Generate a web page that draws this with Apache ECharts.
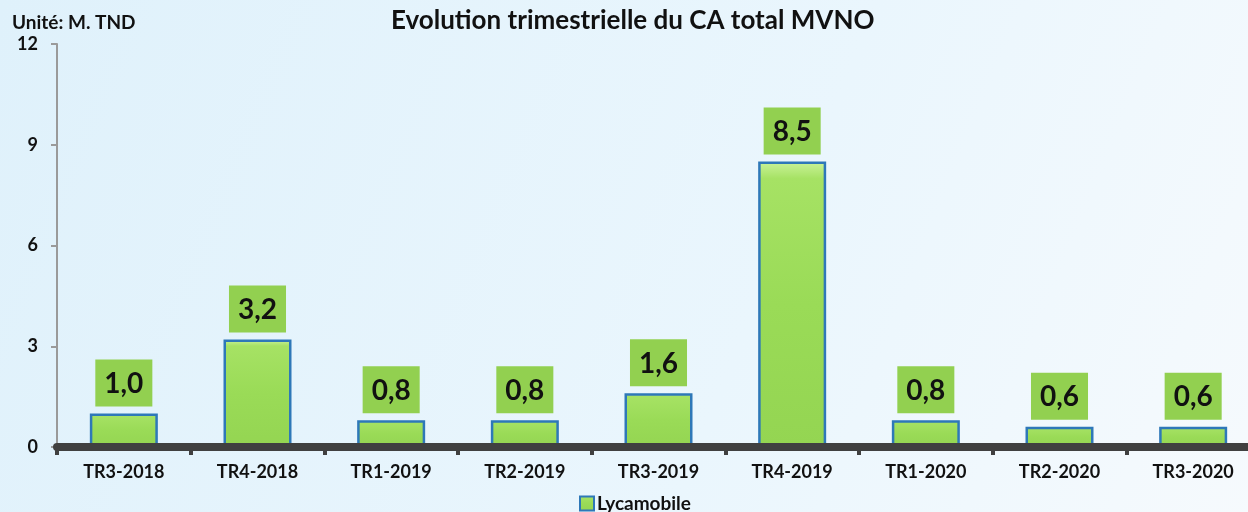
<!DOCTYPE html>
<html>
<head>
<meta charset="utf-8">
<script src="https://cdn.jsdelivr.net/npm/echarts@6/dist/echarts.min.js"></script>
<style>html,body{margin:0;padding:0;overflow:hidden;width:1248px;height:512px;}#c{width:1260px;height:512px;}</style>
</head>
<body>
<div id="c"></div>
<script>
const categories = ['TR3-2018','TR4-2018','TR1-2019','TR2-2019','TR3-2019','TR4-2019','TR1-2020','TR2-2020','TR3-2020'];
const lycamobile = [1.0, 3.2, 0.8, 0.8, 1.6, 8.5, 0.8, 0.6, 0.6];
const seriesName = 'Lycamobile';
const chartTitle = 'Evolution trimestrielle du CA total MVNO';
const unitLabel = 'Unité: M. TND';
const FONT = 'Lato';

const chart = echarts.init(document.getElementById('c'));
chart.setOption({
  animation: false,
  backgroundColor: new echarts.graphic.LinearGradient(0, 0, 1, 1, [
    {offset: 0, color: '#DFF1FB'},
    {offset: 0.6, color: '#EAF6FD'},
    {offset: 1, color: '#F6FAFD'}
  ]),
  title: [
    {text: chartTitle, left: 391, top: 8, padding: 0,
     textStyle: {fontFamily: FONT, fontWeight: 'bold', fontSize: 26, color: '#111'}},
    {text: unitLabel, left: 12, top: 13, padding: 0,
     textStyle: {fontFamily: FONT, fontWeight: 'bold', fontSize: 19, color: '#111'}}
  ],
  legend: {
    left: 579, top: 494, padding: 0,
    icon: 'rect', itemWidth: 14, itemHeight: 14, itemGap: 4,
    textStyle: {fontFamily: FONT, fontWeight: 'bold', fontSize: 19, color: '#111', padding: [0,0,0,-2]},
    data: [seriesName]
  },
  grid: {left: 57, right: 0, top: 44, bottom: 65, containLabel: false},
  xAxis: {
    type: 'category', data: categories, z: 5,
    axisLine: {lineStyle: {color: '#404040', width: 8}},
    axisTick: {show: true, length: 8, lineStyle: {color: '#404040', width: 4}},
    axisLabel: {margin: 16, fontFamily: FONT, fontWeight: 'bold', fontSize: 18, color: '#111'}
  },
  yAxis: {
    type: 'value', min: 0, max: 12, interval: 3,
    splitLine: {show: false},
    axisLine: {show: true, lineStyle: {color: '#9a9a9a', width: 2}},
    axisTick: {show: true, length: 6, lineStyle: {color: '#9a9a9a', width: 2}},
    axisLabel: {margin: 19, fontFamily: FONT, fontWeight: 'bold', fontSize: 18, color: '#111'}
  },
  series: [{
    name: seriesName, type: 'bar', data: lycamobile, barWidth: 68,
    itemStyle: {
      color: new echarts.graphic.LinearGradient(0, 0, 0, 1, [
        {offset: 0, color: '#CBF39A'},
        {offset: 0.06, color: '#A6E264'},
        {offset: 0.5, color: '#9ADB57'},
        {offset: 1, color: '#94D552'}
      ]),
      borderColor: '#2E78B8', borderWidth: 2.5
    },
    label: {
      show: true, position: 'top', distance: 7,
      formatter: p => p.value.toFixed(1).replace('.', ','),
      fontFamily: FONT, fontWeight: 'bold', fontSize: 28, color: '#111',
      backgroundColor: '#92D050', padding: [7, 9, 5, 9], lineHeight: 35
    }
  }]
});
</script>
</body>
</html>
